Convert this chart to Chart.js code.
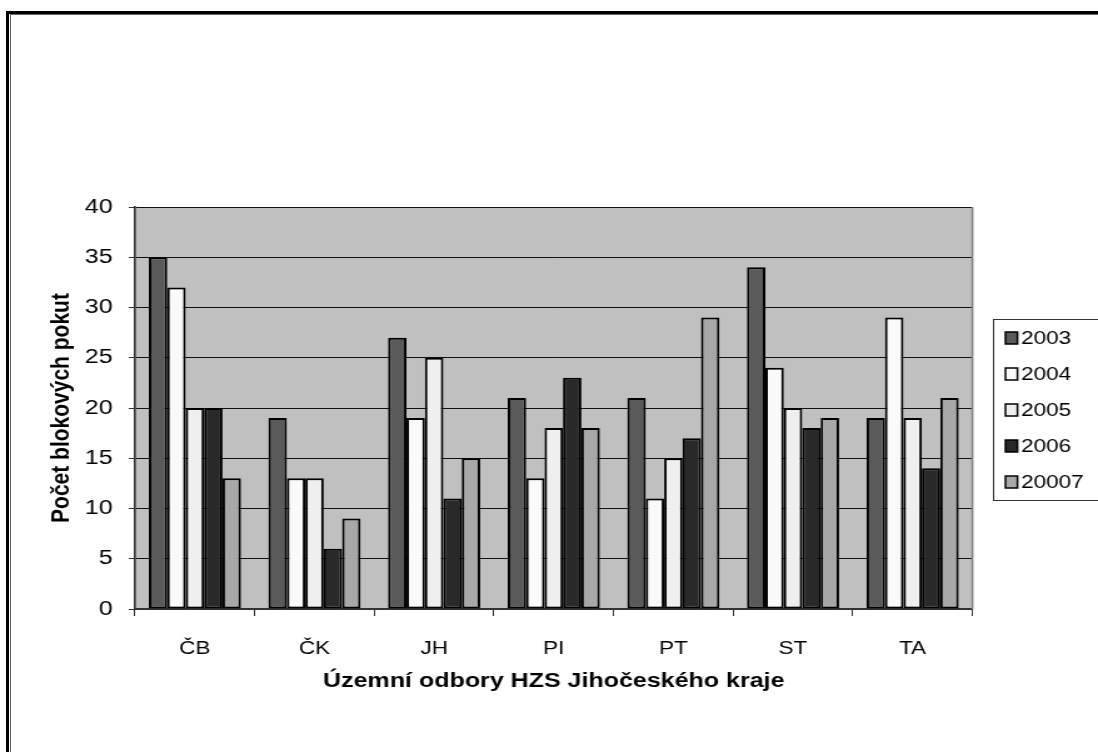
<!DOCTYPE html>
<html>
<head>
<meta charset="utf-8">
<script src="https://cdn.jsdelivr.net/npm/chart.js@4/dist/chart.umd.min.js"></script>
<style>
  html, body { margin: 0; padding: 0; background: #fff; }
  #frame { position: absolute; left: 6px; top: 11px; width: 1100px; height: 750px;
           border-left: 3px solid #000; border-top: 3px solid #000; }
  #inner { position: absolute; left: 10px; top: 14px; width: 1100px; height: 750px;
           border-left: 1px solid #666; border-top: 1px solid #666; }
  #wrap { position: absolute; left: 0; top: 0; width: 1098px; height: 752px; }
  #chart { display: block; }
</style>
</head>
<body>
<div id="frame"></div>
<div id="inner"></div>
<div id="wrap">
  <!-- the old picture is stretched sideways, so draw narrow and widen with CSS -->
  <canvas id="chart" width="878" height="752" style="width:1098px;height:752px"></canvas>
</div>
<script>
// data
const regions = ['ČB', 'ČK', 'JH', 'PI', 'PT', 'ST', 'TA'];
const years = ['2003', '2004', '2005', '2006', '20007'];
const y2003 = [35, 19, 27, 21, 21, 34, 19];
const y2004 = [32, 13, 19, 13, 11, 24, 29];
const y2005 = [20, 13, 25, 18, 15, 20, 19];
const y2006 = [20, 6, 11, 23, 17, 18, 14];
const y2007 = [13, 9, 15, 18, 29, 19, 21];
const yTicks = [0, 5, 10, 15, 20, 25, 30, 35, 40];

const colors = ['#5a5a5a', '#fafafa', '#efefef', '#292929', '#a8a8a8'];
const series = [y2003, y2004, y2005, y2006, y2007];

const font = 'Arial, "Liberation Sans", sans-serif';

// grey plot background + right edge
const plotBg = {
    id: 'plotBg',
    beforeDraw(chart) {
        const a = chart.chartArea;
        const ctx = chart.ctx;
        ctx.save();
        ctx.fillStyle = '#c0c0c0';
        ctx.fillRect(a.left, a.top, a.right - a.left, a.bottom - a.top);
        ctx.restore();
    },
    afterDatasetsDraw(chart) {
        const a = chart.chartArea;
        const ctx = chart.ctx;
        ctx.save();
        ctx.strokeStyle = '#808080';
        ctx.lineWidth = 1.6;
        ctx.beginPath();
        ctx.moveTo(a.right, a.top);
        ctx.lineTo(a.right, a.bottom);
        ctx.stroke();
        ctx.restore();
    }
};

// boxed legend on the right, like the old Excel one
const boxLegend = {
    id: 'boxLegend',
    afterDraw(chart) {
        const ctx = chart.ctx;
        ctx.save();
        ctx.fillStyle = '#fff';
        ctx.fillRect(794.5, 319.5, 100, 181);
        ctx.strokeStyle = '#333';
        ctx.lineWidth = 1;
        ctx.strokeRect(794.5, 319.5, 100, 181);
        ctx.font = '18px ' + font;
        ctx.textBaseline = 'middle';
        chart.data.datasets.forEach((ds, i) => {
            const cy = 338 + i * 36;
            ctx.fillStyle = ds.backgroundColor;
            ctx.fillRect(804, cy - 6, 9.6, 12);
            ctx.strokeStyle = '#000';
            ctx.lineWidth = 1.5;
            ctx.strokeRect(804, cy - 6, 9.6, 12);
            ctx.fillStyle = '#000';
            ctx.fillText(ds.label, 816.5, cy + 1);
        });
        ctx.restore();
    }
};

const chart = new Chart(document.getElementById('chart').getContext('2d'), {
    type: 'bar',
    data: {
        labels: regions,
        datasets: years.map((y, i) => ({
            label: y,
            data: series[i],
            backgroundColor: colors[i],
            borderColor: '#000',
            borderWidth: 2,
            borderSkipped: false,
            barPercentage: 1,
            categoryPercentage: 0.77
        }))
    },
    options: {
        responsive: false,
        animation: false,
        layout: {
            padding: { left: 33, right: 100.4, top: 207, bottom: 55 }
        },
        plugins: {
            legend: { display: false },
            tooltip: { enabled: false }
        },
        scales: {
            x: {
                grid: {
                    offset: true,
                    drawOnChartArea: false,
                    drawTicks: true,
                    tickLength: 7,
                    color: '#333'
                },
                border: { color: '#333', width: 2 },
                ticks: {
                    color: '#000',
                    padding: 22,
                    font: { family: font, size: 18 }
                },
                title: {
                    display: true,
                    text: 'Územní odbory HZS Jihočeského kraje',
                    color: '#000',
                    font: { family: font, size: 20, weight: 'bold' },
                    padding: { top: 4, bottom: 4 }
                },
                afterFit(scale) { scale.height = 88; }
            },
            y: {
                min: 0,
                max: 40,
                afterBuildTicks(scale) { scale.ticks = yTicks.map(v => ({ value: v })); },
                grid: {
                    color: '#111',
                    lineWidth: 1,
                    tickLength: 5,
                    tickColor: '#333'
                },
                border: { color: '#333', width: 1.6 },
                ticks: {
                    color: '#000',
                    padding: 13,
                    font: { family: font, size: 20 }
                },
                title: {
                    display: true,
                    text: 'Počet blokových pokut',
                    color: '#000',
                    font: { family: font, size: 21, weight: 'bold' },
                    padding: { top: 4, bottom: 4 }
                },
                afterFit(scale) { scale.width = 75; }
            }
        }
    },
    plugins: [plotBg, boxLegend]
});
</script>
</body>
</html>
